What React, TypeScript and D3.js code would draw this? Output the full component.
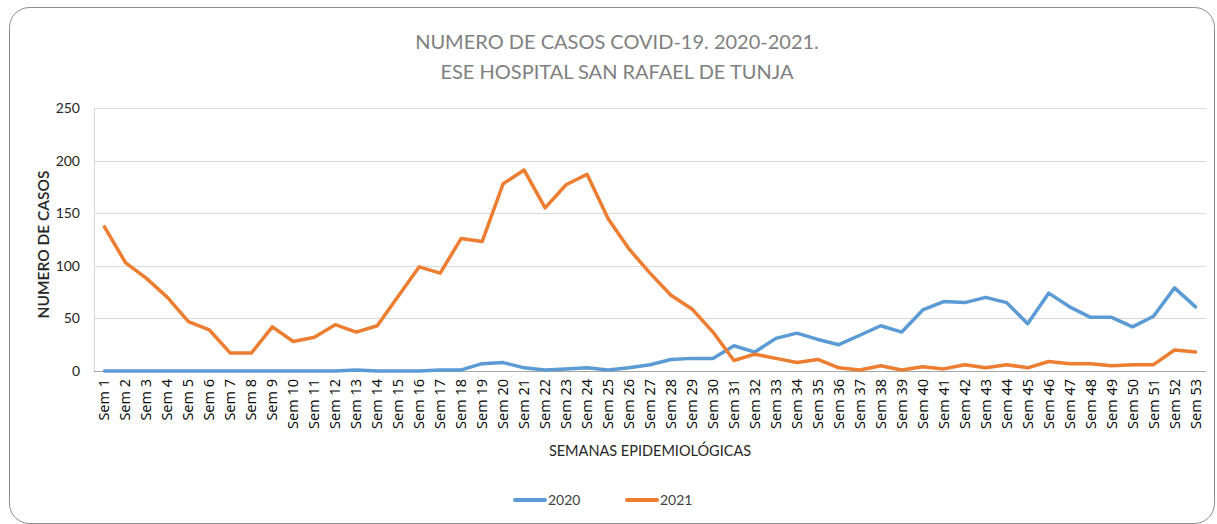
import React, { useRef, useEffect } from 'react';
import * as d3 from 'd3';

const weeks = d3.range(1, 54).map(i => `Sem ${i}`);

const cases2020 = [
  0, 0, 0, 0, 0, 0, 0, 0, 0, 0, 0, 0, 1, 0, 0, 0, 1, 1, 7, 8,
  3, 1, 2, 3, 1, 3, 6, 11, 12, 12, 24, 18, 31, 36, 30, 25, 34, 43, 37, 58,
  66, 65, 70, 65, 45, 74, 61, 51, 51, 42, 52, 79, 61,
];

const cases2021 = [
  137, 103, 88, 70, 47, 39, 17, 17, 42, 28, 32, 44, 37, 43, 71, 99, 93, 126, 123, 178,
  191, 155, 177, 187, 145, 116, 93, 72, 59, 37, 10, 16, 12, 8, 11, 3, 1, 5, 1, 4,
  2, 6, 3, 6, 3, 9, 7, 7, 5, 6, 6, 20, 18,
];

const yTicks = [0, 50, 100, 150, 200, 250];

const series = [
  { name: '2020', values: cases2020, color: '#5b9bd5' },
  { name: '2021', values: cases2021, color: '#ed7d31' },
];

const W = 1217;
const H = 524;

const App: React.FC = () => {
  const svgRef = useRef<SVGSVGElement>(null);

  useEffect(() => {
    if (!svgRef.current) return;
    const svg = d3.select(svgRef.current);
    svg.selectAll('*').remove();

    const plot = { left: 94, right: 1206, top: 108, bottom: 371 };
    const font = 'Lato, "Open Sans", sans-serif';

    // outer frame
    svg.append('rect')
      .attr('x', 9.5).attr('y', 7.5)
      .attr('width', 1205).attr('height', 516)
      .attr('rx', 20).attr('ry', 20)
      .attr('fill', 'white')
      .attr('stroke', '#8c8c8c')
      .attr('stroke-width', 1);

    const x = d3.scaleBand<string>()
      .domain(weeks)
      .range([plot.left, plot.right]);

    const y = d3.scaleLinear()
      .domain([0, 250])
      .range([plot.bottom, plot.top]);

    // gridlines
    svg.append('g')
      .selectAll('line')
      .data(yTicks.filter(t => t > 0))
      .enter().append('line')
      .attr('x1', plot.left).attr('x2', plot.right)
      .attr('y1', d => Math.round(y(d)) + 0.5).attr('y2', d => Math.round(y(d)) + 0.5)
      .attr('stroke', '#d9d9d9').attr('stroke-width', 1);

    // axes lines
    svg.append('line')
      .attr('x1', plot.left + 0.5).attr('x2', plot.left + 0.5)
      .attr('y1', plot.top).attr('y2', plot.bottom)
      .attr('stroke', '#d9d9d9');
    svg.append('line')
      .attr('x1', plot.left).attr('x2', plot.right)
      .attr('y1', plot.bottom + 0.5).attr('y2', plot.bottom + 0.5)
      .attr('stroke', '#a6a6a6');

    // y tick labels
    svg.append('g')
      .selectAll('text')
      .data(yTicks)
      .enter().append('text')
      .attr('x', 80)
      .attr('y', d => y(d))
      .attr('dy', '0.35em')
      .attr('text-anchor', 'end')
      .style('font-family', font)
      .style('font-size', '14px')
      .attr('fill', '#262626')
      .text(d => d);

    // x tick labels
    svg.append('g')
      .selectAll('text')
      .data(weeks)
      .enter().append('text')
      .attr('transform', d => `translate(${(x(d) ?? 0) + x.bandwidth() / 2 + 5},379) rotate(-90)`)
      .attr('text-anchor', 'end')
      .style('font-family', '"Open Sans", sans-serif')
      .style('font-size', '14.5px')
      .attr('fill', '#000')
      .text(d => d);

    // lines
    const line = d3.line<number>()
      .x((_, i) => (x(weeks[i]) ?? 0) + x.bandwidth() / 2)
      .y(d => y(d));

    svg.append('g')
      .selectAll('path')
      .data(series)
      .enter().append('path')
      .attr('d', d => line(d.values) || '')
      .attr('fill', 'none')
      .attr('stroke', d => d.color)
      .attr('stroke-width', 3.5)
      .attr('stroke-linejoin', 'round')
      .attr('stroke-linecap', 'round');

    // titles
    const title = svg.append('text')
      .attr('text-anchor', 'middle')
      .style('font-family', font)
      .style('font-size', '20px')
      .attr('fill', '#7f7f7f');
    title.append('tspan').attr('x', 617).attr('y', 49).text('NUMERO DE CASOS COVID-19. 2020-2021.');
    title.append('tspan').attr('x', 617).attr('y', 79).text('ESE HOSPITAL SAN RAFAEL DE TUNJA');

    svg.append('text')
      .attr('x', 650).attr('y', 456)
      .attr('text-anchor', 'middle')
      .style('font-family', font)
      .style('font-size', '14.5px')
      .attr('fill', '#262626')
      .text('SEMANAS EPIDEMIOLÓGICAS');

    svg.append('text')
      .attr('transform', `translate(49,${(plot.top + plot.bottom) / 2 + 5}) rotate(-90)`)
      .attr('text-anchor', 'middle')
      .style('font-family', font)
      .style('font-size', '15.5px')
      .style('font-weight', 600)
      .attr('fill', '#262626')
      .text('NUMERO DE CASOS');

    // legend
    const legend = svg.append('g');
    const items = [
      { s: series[0], x: 515 },
      { s: series[1], x: 627 },
    ];
    items.forEach(({ s, x: lx }) => {
      legend.append('line')
        .attr('x1', lx).attr('x2', lx + 30)
        .attr('y1', 500).attr('y2', 500)
        .attr('stroke', s.color)
        .attr('stroke-width', 4)
        .attr('stroke-linecap', 'round');
      legend.append('text')
        .attr('x', lx + 33).attr('y', 500)
        .attr('dy', '0.35em')
        .style('font-family', font)
        .style('font-size', '14px')
        .attr('fill', '#404040')
        .text(s.name);
    });
  }, []);

  return (
    <svg
      ref={svgRef}
      width={W}
      height={H}
      style={{ position: 'absolute', left: 0, top: 0 }}
    />
  );
};

export default App;
